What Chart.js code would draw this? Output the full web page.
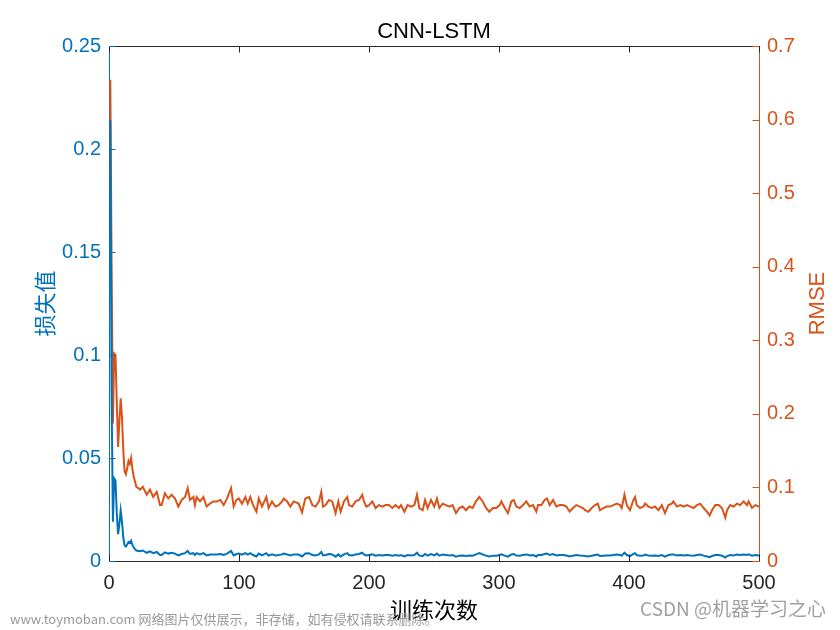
<!DOCTYPE html>
<html><head><meta charset="utf-8">
<script src="https://cdn.jsdelivr.net/npm/chart.js@4"></script>
<style>html,body{margin:0;padding:0;background:#fff}canvas{display:block}</style>
</head><body>
<canvas id="c" width="840" height="630"></canvas>
<script>
// ---- data ----
const epochs = [
 1,2,3,4,5,6,7,8,9,10,11,12,13,14,15,16,17,18,19,20,21,
 24,26,29,31.5,34,36.7,38,39.2,40.5,43,45.6,48.2,50.8,53.3,55.9,58.5,60.5,62.3,64.9,66.1,67.4,70,72.6,75.1,77.7,80.2,83,
 85.7,88.2,90.8,93.9,95.9,98,99.8,102.3,104.9,106.7,108.7,110.8,113.4,115.2,117.7,121,122.8,125.4,128,130.5,133.1,134.4,137,139.5,142.1,145.9,148.5,151,153.9,
 156.4,158.9,161.5,163.3,164.6,166.6,169.2,171.7,174.3,176.4,178.2,180.7,183.3,184.6,187.1,189.7,192.3,194.8,196.1,197.9,200,202.5,205.1,207.6,210.2,212.8,215.3,217.9,220.5,223,
 224.6,227.2,229.7,232.3,234.9,236.9,238.7,241.3,243.1,245.1,247.7,250.2,252.3,254.1,256.7,259.2,261.8,264.3,266.9,269.5,272,274.6,277.2,279.7,282.3,284.9,287.4,290,292.5,295.4,
 298,300.5,301.8,304.4,306.9,309.5,311.3,313.3,315.9,318.5,321,323.6,326.2,328.7,330,332.6,335.1,336.9,339,341.6,344.1,346.7,349.2,351.8,354.4,356.9,359.5,362.1,364.6,
 366.2,368.8,371.3,373.9,376,377.7,380.3,382.9,385.4,388,390.6,393.1,394.4,396.5,398.3,400.8,403.4,404.7,405.9,408.5,411.1,412.4,414.9,417.5,420,422.6,425.2,427.7,430.3,432.9,434.1,
 436.9,439.5,442,444.6,447.2,449.7,452.3,454.8,457.4,460,462,463.8,466.4,469,471.5,474.1,475.4,477.9,480.5,483.1,485.6,488.2,490.8,492,494.6,497.2,500
];
const rmseValues = [
 .654,.40,.187,.282,.280,.215,.155,.190,.221,.195,.150,.122,.118,.126,.136,.132,.140,.125,.115,.108,.101,
 .097,.101,.090,.097,.087,.094,.085,.076,.076,.092,.085,.090,.085,.074,.083,.087,.099,.083,.087,.076,.087,.081,.087,.074,.078,.081,.081,
 .083,.076,.085,.099,.074,.083,.085,.078,.087,.078,.087,.076,.067,.085,.074,.087,.072,.081,.074,.076,.081,.085,.081,.074,.081,.078,.066,.085,.087,
 .076,.074,.081,.094,.074,.076,.083,.081,.065,.081,.067,.081,.087,.076,.074,.081,.083,.090,.081,.074,.076,.081,.072,.076,.074,.076,.076,.072,.076,.072,
 .076,.067,.076,.074,.076,.090,.072,.069,.083,.072,.083,.074,.085,.072,.078,.076,.074,.076,.065,.072,.074,.069,.074,.072,.081,.087,.081,.072,.067,.072,
 .072,.076,.081,.072,.065,.081,.083,.074,.072,.076,.081,.074,.076,.067,.076,.076,.083,.085,.076,.083,.074,.076,.076,.074,.067,.072,.076,.074,.072,
 .069,.067,.072,.076,.078,.069,.072,.074,.074,.076,.078,.076,.072,.090,.076,.069,.083,.087,.076,.072,.074,.078,.074,.072,.074,.069,.076,.065,.076,.078,.081,
 .074,.076,.074,.076,.074,.072,.076,.078,.072,.067,.062,.069,.076,.076,.072,.059,.069,.076,.074,.078,.076,.081,.076,.081,.072,.076,.074
];
const lossValues = [
 .214,.080,.019,.040,.039,.023,.013,.018,.0245,.019,.0113,.0075,.007,.008,.0092,.0087,.0098,.0078,.0066,.0058,.0051,
 .0047,.0051,.0040,.0047,.0038,.0044,.0036,.0029,.0029,.0042,.0036,.0040,.0036,.0027,.0034,.0038,.0049,.0034,.0038,.0029,.0038,.0032,.0038,.0027,.0031,.0032,.0032,
 .0034,.0029,.0036,.0049,.0027,.0034,.0036,.0031,.0038,.0031,.0038,.0029,.0022,.0036,.0027,.0038,.0026,.0032,.0027,.0029,.0032,.0036,.0032,.0027,.0032,.0031,.0022,.0036,.0038,
 .0029,.0027,.0032,.0044,.0027,.0029,.0034,.0032,.0021,.0032,.0022,.0032,.0038,.0029,.0027,.0032,.0034,.0040,.0032,.0027,.0029,.0032,.0026,.0029,.0027,.0029,.0029,.0026,.0029,.0026,
 .0029,.0022,.0029,.0027,.0029,.0040,.0026,.0024,.0034,.0026,.0034,.0027,.0036,.0026,.0031,.0029,.0027,.0029,.0021,.0026,.0027,.0024,.0027,.0026,.0032,.0038,.0032,.0026,.0022,.0026,
 .0026,.0029,.0032,.0026,.0021,.0032,.0034,.0027,.0026,.0029,.0032,.0027,.0029,.0022,.0029,.0029,.0034,.0036,.0029,.0034,.0027,.0029,.0029,.0027,.0022,.0026,.0029,.0027,.0026,
 .0024,.0022,.0026,.0029,.0031,.0024,.0026,.0027,.0027,.0029,.0031,.0029,.0026,.0040,.0029,.0024,.0034,.0038,.0029,.0026,.0027,.0031,.0027,.0026,.0027,.0024,.0029,.0021,.0029,.0031,.0032,
 .0027,.0029,.0027,.0029,.0027,.0026,.0029,.0031,.0026,.0022,.0019,.0024,.0029,.0029,.0026,.0017,.0024,.0029,.0027,.0031,.0029,.0032,.0029,.0032,.0026,.0029,.0027
];
const xTickValues = [0,100,200,300,400,500];
const lossTickValues = [0,0.05,0.1,0.15,0.2,0.25];
const rmseTickValues = [0,0.1,0.2,0.3,0.4,0.5,0.6,0.7];
const chartTitle = 'CNN-LSTM';
const xAxisTitle = '训练次数';
const lossAxisTitle = '损失值';
const rmseAxisTitle = 'RMSE';
const watermarkLeft = 'www.toymoban.com 网络图片仅供展示，非存储，如有侵权请联系删除。';
const watermarkRight = 'CSDN @机器学习之心';

// ---- styles ----
const BLUE = '#0072BD', ORANGE = '#D95319', DARK = '#262626';
const FONT = '"Liberation Sans", Arial, Helvetica, "Noto Sans CJK SC", sans-serif';
const CJK = '"Noto Sans CJK SC", "Liberation Sans", sans-serif';
const fmt = v => String(Number(Number(v).toFixed(2)));
const useTicks = vals => scale => { scale.ticks = vals.map(v => ({value: v})); };

const innerTicks = {
  id: 'innerTicks',
  afterDraw(chart) {
    const {ctx, chartArea: a, scales} = chart;
    const L = 6.5;
    ctx.save();
    ctx.lineWidth = 1;
    ctx.strokeStyle = DARK;
    ctx.beginPath();
    ctx.moveTo(a.left, Math.round(a.top) + 0.5);
    ctx.lineTo(a.right, Math.round(a.top) + 0.5);
    ctx.stroke();
    const xs = scales.x;
    ctx.beginPath();
    xs.ticks.forEach(t => {
      const px = Math.round(xs.getPixelForValue(t.value)) + 0.5;
      ctx.moveTo(px, a.bottom); ctx.lineTo(px, a.bottom - L);
      ctx.moveTo(px, a.top); ctx.lineTo(px, a.top + L);
    });
    ctx.stroke();
    const yl = scales.y;
    ctx.strokeStyle = BLUE;
    ctx.beginPath();
    yl.ticks.forEach(t => {
      const py = Math.round(yl.getPixelForValue(t.value)) + 0.5;
      ctx.moveTo(a.left, py); ctx.lineTo(a.left + L, py);
    });
    ctx.stroke();
    const yr = scales.y1;
    ctx.strokeStyle = ORANGE;
    ctx.beginPath();
    yr.ticks.forEach(t => {
      const py = Math.round(yr.getPixelForValue(t.value)) + 0.5;
      ctx.moveTo(a.right, py); ctx.lineTo(a.right - L, py);
    });
    ctx.stroke();
    // chart title, centred over the plot area
    ctx.fillStyle = '#000';
    ctx.font = '22px ' + FONT;
    ctx.textAlign = 'center';
    ctx.textBaseline = 'middle';
    ctx.fillText(chartTitle, (a.left + a.right) / 2, 32);
    // right axis title, reading bottom-to-top
    ctx.save();
    ctx.translate(818, (a.top + a.bottom) / 2);
    ctx.rotate(-Math.PI / 2);
    ctx.fillStyle = ORANGE;
    ctx.font = '22px ' + FONT;
    ctx.textAlign = 'center';
    ctx.textBaseline = 'middle';
    ctx.fillText(rmseAxisTitle, 0, 0);
    ctx.restore();
    // watermarks
    ctx.fillStyle = '#9a9a9a';
    ctx.textBaseline = 'middle';
    ctx.textAlign = 'left';
    ctx.font = '13px ' + CJK;
    ctx.fillText(watermarkLeft, 10, 619);
    ctx.fillStyle = '#a0a0a0';
    ctx.font = '19px ' + CJK;
    ctx.textAlign = 'right';
    ctx.fillText(watermarkRight, 826, 609);
    ctx.restore();
  }
};

new Chart(document.getElementById('c'), {
  type: 'line',
  data: {
    datasets: [
      {
        label: lossAxisTitle,
        data: epochs.map((e, i) => ({x: e, y: lossValues[i]})),
        yAxisID: 'y',
        borderColor: BLUE,
        borderWidth: 2,
        pointRadius: 0,
        tension: 0,
        fill: false,
        order: 0
      },
      {
        label: rmseAxisTitle,
        data: epochs.map((e, i) => ({x: e, y: rmseValues[i]})),
        yAxisID: 'y1',
        borderColor: ORANGE,
        borderWidth: 2,
        pointRadius: 0,
        tension: 0,
        fill: false,
        order: 1
      }
    ]
  },
  options: {
    responsive: false,
    animation: false,
    devicePixelRatio: 1,
    layout: {padding: {top: 46, left: 0, right: 0, bottom: 0}},
    plugins: {
      legend: {display: false},
      tooltip: {enabled: false},
      title: {display: false}
    },
    scales: {
      x: {
        type: 'linear',
        min: 0, max: 500,
        afterBuildTicks: useTicks(xTickValues),
        afterFit: s => { s.height = 69; },
        grid: {display: false, drawTicks: false},
        border: {display: true, color: DARK, width: 1},
        ticks: {color: DARK, font: {family: FONT, size: 20}, padding: 10, maxRotation: 0, autoSkip: false, callback: v => fmt(v)},
        title: {display: true, text: xAxisTitle, color: '#000', font: {family: CJK, size: 22}, padding: {top: 0, bottom: 6.8}}
      },
      y: {
        type: 'linear',
        position: 'left',
        min: 0, max: 0.25,
        afterBuildTicks: useTicks(lossTickValues),
        afterFit: s => { s.width = 109; },
        grid: {display: false, drawTicks: false},
        border: {display: true, color: BLUE, width: 1},
        ticks: {color: BLUE, font: {family: FONT, size: 20}, padding: 8, autoSkip: false, callback: v => fmt(v)},
        title: {display: true, text: lossAxisTitle, color: BLUE, font: {family: CJK, size: 22}, padding: {top: 31.8, bottom: 0}}
      },
      y1: {
        type: 'linear',
        position: 'right',
        min: 0, max: 0.7,
        afterBuildTicks: useTicks(rmseTickValues),
        afterFit: s => { s.width = 81; },
        grid: {display: false, drawTicks: false},
        border: {display: true, color: ORANGE, width: 1},
        ticks: {color: ORANGE, font: {family: FONT, size: 20}, padding: 8, autoSkip: false, callback: v => fmt(v)},
        title: {display: false}
      }
    }
  },
  plugins: [innerTicks]
});
</script>
</body></html>
